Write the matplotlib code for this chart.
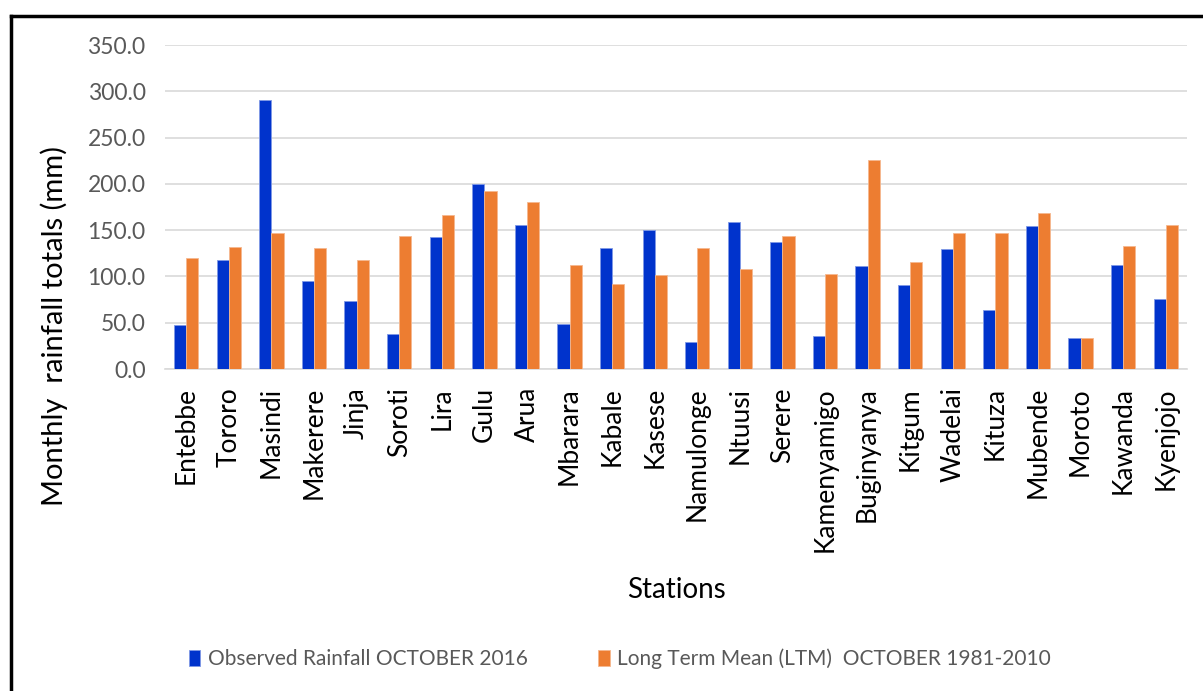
import numpy as np
import matplotlib.pyplot as plt
from matplotlib.lines import Line2D

plt.rcParams['font.family'] = ['Lato', 'DejaVu Sans']

stations = ['Entebbe', 'Tororo', 'Masindi', 'Makerere', 'Jinja', 'Soroti', 'Lira',
            'Gulu', 'Arua', 'Mbarara', 'Kabale', 'Kasese', 'Namulonge', 'Ntuusi',
            'Serere', 'Kamenyamigo', 'Buginyanya', 'Kitgum', 'Wadelai', 'Kituza',
            'Mubende', 'Moroto', 'Kawanda', 'Kyenjojo']
observed = [47.5, 118.0, 291.0, 94.6, 73.7, 37.8, 143.0,
            199.6, 155.4, 48.9, 130.6, 150.0, 29.1, 158.3,
            137.4, 35.3, 111.2, 90.3, 129.1, 64.0,
            154.0, 33.5, 112.6, 75.2]
ltm = [119.4, 131.7, 147.0, 130.6, 118.0, 144.0, 166.0,
       192.8, 180.2, 112.2, 91.7, 101.4, 130.6, 108.3,
       144.2, 102.5, 225.9, 115.5, 147.1, 147.1,
       169.0, 33.5, 133.1, 155.4]
yticks = [0, 50, 100, 150, 200, 250, 300, 350]

blue = '#0033CC'
orange = '#ED7D31'

fig = plt.figure(figsize=(12.03, 6.91), dpi=100)
W, H = 1203, 691
ax = fig.add_axes([165 / W, 1 - 369 / H, (1187 - 165) / W, (369 - 45) / H])

x = np.arange(len(stations))
w = 0.285
ax.bar(x - w / 2, observed, w, color=blue, edgecolor='#7f99e6', linewidth=0.6,
       label='Observed Rainfall OCTOBER 2016', zorder=3)
ax.bar(x + w / 2, ltm, w, color=orange, edgecolor='#f5b88f', linewidth=0.6,
       label='Long Term Mean (LTM)  OCTOBER 1981-2010', zorder=3)

ax.set_xlim(-0.5, len(stations) - 0.5)
ax.set_ylim(0, 350)
ax.set_yticks(yticks)
ax.set_yticklabels(['%.1f' % v for v in yticks], color='#595959', fontsize=16.5)
ax.set_xticks(x)
ax.set_xticklabels(stations, rotation=90, fontsize=19, color='black')
ax.tick_params(length=0)
ax.tick_params(axis='y', pad=14)
ax.tick_params(axis='x', pad=13)
ax.yaxis.grid(True, color='#d9d9d9', linewidth=1.2, zorder=0)
for s in ['top', 'right', 'left']:
    ax.spines[s].set_visible(False)
ax.spines['bottom'].set_color('#d9d9d9')
ax.spines['bottom'].set_linewidth(1.2)

ax.set_ylabel('Monthly  rainfall totals (mm)', fontsize=21)
ax.yaxis.set_label_coords((68 - 165) / 1022, (369 - 326) / 324)
ax.set_xlabel('Stations', fontsize=20)
ax.xaxis.set_label_coords(0.5, (369 - 577) / 324)

fig.legend(loc='center', bbox_to_anchor=(620 / W, 1 - 659 / H), ncol=2, frameon=False,
           fontsize=15, labelcolor='#595959', columnspacing=3.4, handlelength=0.55,
           handleheight=0.8, handletextpad=0.35)

# outer frame (top and left edges visible)
fig.add_artist(Line2D([11 / W, 1.0], [1 - 16 / H, 1 - 16 / H], color='black', linewidth=2.5,
                      transform=fig.transFigure))
fig.add_artist(Line2D([11 / W, 11 / W], [0.0, 1 - 16 / H], color='black', linewidth=2.5,
                      transform=fig.transFigure))

fig.savefig('out.png', dpi=100)
